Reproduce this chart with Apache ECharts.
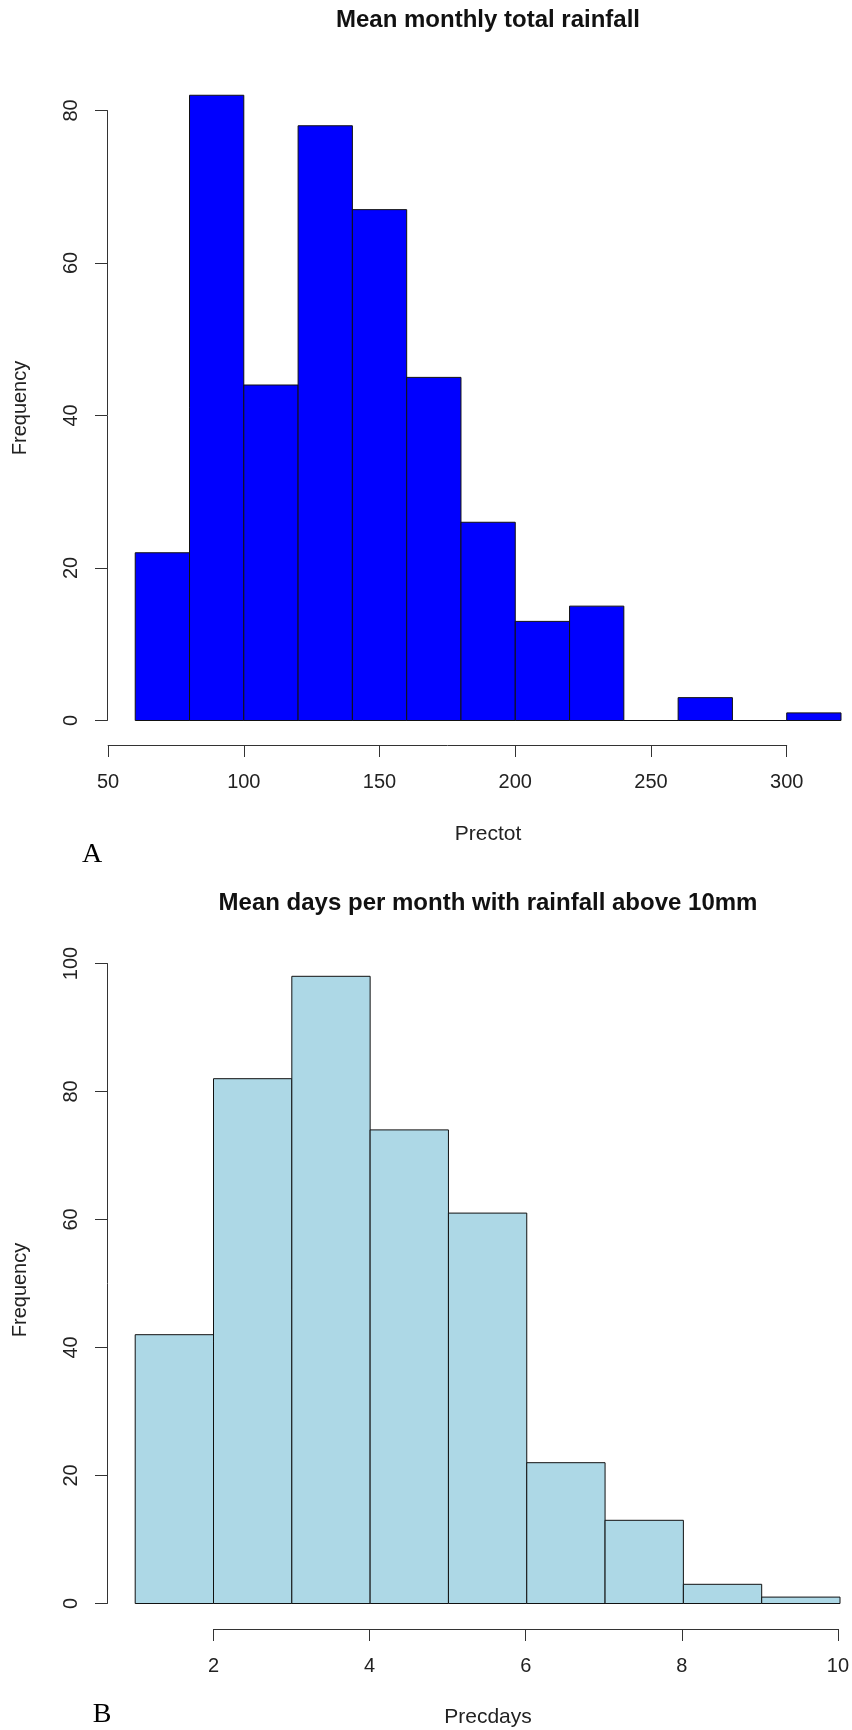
<!DOCTYPE html>
<html>
<head>
<meta charset="utf-8">
<script src="https://cdn.jsdelivr.net/npm/echarts@6/dist/echarts.min.js"></script>
<style>
html,body{margin:0;padding:0;background:#fff;}
#chart{width:852px;height:1730px;}
</style>
</head>
<body>
<div id="chart"></div>
<script>
// ---- Data ----
const precTotBreaks = [60, 80, 100, 120, 140, 160, 180, 200, 220, 240, 260, 280, 300, 320];
const precTotCounts = [22, 82, 44, 78, 67, 45, 26, 13, 15, 0, 3, 0, 1];
const precDaysBreaks = [1, 2, 3, 4, 5, 6, 7, 8, 9, 10];
const precDaysCounts = [42, 82, 98, 74, 61, 22, 13, 3, 1];
const precTotXTicks = [50, 100, 150, 200, 250, 300];
const precTotYTicks = [0, 20, 40, 60, 80];
const precDaysXTicks = [2, 4, 6, 8, 10];
const precDaysYTicks = [0, 20, 40, 60, 80, 100];
const titleA = 'Mean monthly total rainfall';
const titleB = 'Mean days per month with rainfall above 10mm';
const xNameA = 'Prectot';
const xNameB = 'Precdays';
const yName = 'Frequency';

function histData(breaks, counts) {
  return counts.map((c, i) => [breaks[i], breaks[i + 1], c]);
}

const SANS = "'Liberation Sans', Arial, sans-serif";
const SERIF = "'Liberation Serif', 'Times New Roman', serif";
const AX = '#333';

function renderer(color) {
  return function (params, api) {
    const s = api.value(0), e = api.value(1), c = api.value(2);
    const p0 = api.coord([s, c]);
    const p1 = api.coord([e, 0]);
    return {
      type: 'rect',
      shape: { x: p0[0], y: p0[1], width: p1[0] - p0[0], height: p1[1] - p0[1] },
      style: { fill: color, stroke: '#111', lineWidth: 1 }
    };
  };
}

function yAx(gi, ticks) {
  return {
    type: 'value', gridIndex: gi, min: ticks[0], max: ticks[ticks.length - 1],
    interval: ticks[1] - ticks[0],
    axisLine: { show: true, lineStyle: { color: AX, width: 1 } },
    axisTick: { show: true, length: 12, lineStyle: { color: AX, width: 1 } },
    axisLabel: { rotate: 90, margin: 26, fontSize: 20, fontFamily: SANS, color: '#222' },
    splitLine: { show: false }
  };
}
function hiddenY(gi) {
  return { type: 'value', gridIndex: gi, show: false, min: 0, max: 1, splitLine: { show: false } };
}
function hiddenX(gi, min, max) {
  return { type: 'value', gridIndex: gi, show: false, min: min, max: max, splitLine: { show: false } };
}
function tickX(gi, ticks) {
  return {
    type: 'value', gridIndex: gi, position: 'bottom',
    min: ticks[0], max: ticks[ticks.length - 1], interval: ticks[1] - ticks[0],
    axisLine: { show: true, lineStyle: { color: AX, width: 1 } },
    axisTick: { show: true, length: 12, lineStyle: { color: AX, width: 1 } },
    axisLabel: { margin: 27, fontSize: 20, fontFamily: SANS, color: '#222' },
    splitLine: { show: false }
  };
}

// pixel geometry (layout only)
const W = 852, H = 1730;
const A_left = 107, A_right = 11, A_min = 49.6, A_max = 320;
const A_ppu = (W - A_left - A_right) / (A_max - A_min);
const B_left = 107, B_right = 12, B_min = 0.64, B_max = 10;
const B_ppu = (W - B_left - B_right) / (B_max - B_min);

const chart = echarts.init(document.getElementById('chart'));
chart.setOption({
  backgroundColor: '#fff',
  animation: false,
  grid: [
    { left: A_left, right: A_right, top: 110.5, height: 610 },
    { left: A_left + (precTotXTicks[0] - A_min) * A_ppu,
      right: W - (A_left + (precTotXTicks[precTotXTicks.length - 1] - A_min) * A_ppu),
      top: 700, bottom: H - 745 },
    { left: B_left, right: B_right, top: 963.5, height: 640 },
    { left: B_left + (precDaysXTicks[0] - B_min) * B_ppu,
      right: W - (B_left + (precDaysXTicks[precDaysXTicks.length - 1] - B_min) * B_ppu),
      top: 1580, bottom: H - 1629 }
  ],
  xAxis: [
    hiddenX(0, A_min, A_max),
    tickX(1, precTotXTicks),
    hiddenX(2, B_min, B_max),
    tickX(3, precDaysXTicks)
  ],
  yAxis: [
    yAx(0, precTotYTicks),
    hiddenY(1),
    yAx(2, precDaysYTicks),
    hiddenY(3)
  ],
  series: [
    { type: 'custom', xAxisIndex: 0, yAxisIndex: 0, clip: false,
      renderItem: renderer('#0000FF'), encode: { x: [0, 1], y: 2 },
      data: histData(precTotBreaks, precTotCounts) },
    { type: 'custom', xAxisIndex: 2, yAxisIndex: 2, clip: false,
      renderItem: renderer('#ADD8E6'), encode: { x: [0, 1], y: 2 },
      data: histData(precDaysBreaks, precDaysCounts) }
  ],
  graphic: [
    { type: 'text', x: 488, y: 20, style: { text: titleA, font: 'bold 24px ' + SANS, fill: '#111', textAlign: 'center', textVerticalAlign: 'middle', align: 'center', verticalAlign: 'middle' } },
    { type: 'text', x: 488, y: 903, style: { text: titleB, font: 'bold 24px ' + SANS, fill: '#111', textAlign: 'center', textVerticalAlign: 'middle', align: 'center', verticalAlign: 'middle' } },
    { type: 'text', x: 488, y: 834, style: { text: xNameA, font: '21px ' + SANS, fill: '#222', textAlign: 'center', textVerticalAlign: 'middle', align: 'center', verticalAlign: 'middle' } },
    { type: 'text', x: 488, y: 1717, style: { text: xNameB, font: '21px ' + SANS, fill: '#222', textAlign: 'center', textVerticalAlign: 'middle', align: 'center', verticalAlign: 'middle' } },
    { type: 'text', x: 20, y: 408, rotation: Math.PI / 2, style: { text: yName, font: '20px ' + SANS, fill: '#222', textAlign: 'center', textVerticalAlign: 'middle', align: 'center', verticalAlign: 'middle' } },
    { type: 'text', x: 20, y: 1290, rotation: Math.PI / 2, style: { text: yName, font: '20px ' + SANS, fill: '#222', textAlign: 'center', textVerticalAlign: 'middle', align: 'center', verticalAlign: 'middle' } },
    { type: 'text', x: 92, y: 855, style: { text: 'A', font: '28px ' + SERIF, fill: '#000', textAlign: 'center', textVerticalAlign: 'middle', align: 'center', verticalAlign: 'middle' } },
    { type: 'text', x: 102, y: 1715, style: { text: 'B', font: '28px ' + SERIF, fill: '#000', textAlign: 'center', textVerticalAlign: 'middle', align: 'center', verticalAlign: 'middle' } }
  ]
});
</script>
</body>
</html>
